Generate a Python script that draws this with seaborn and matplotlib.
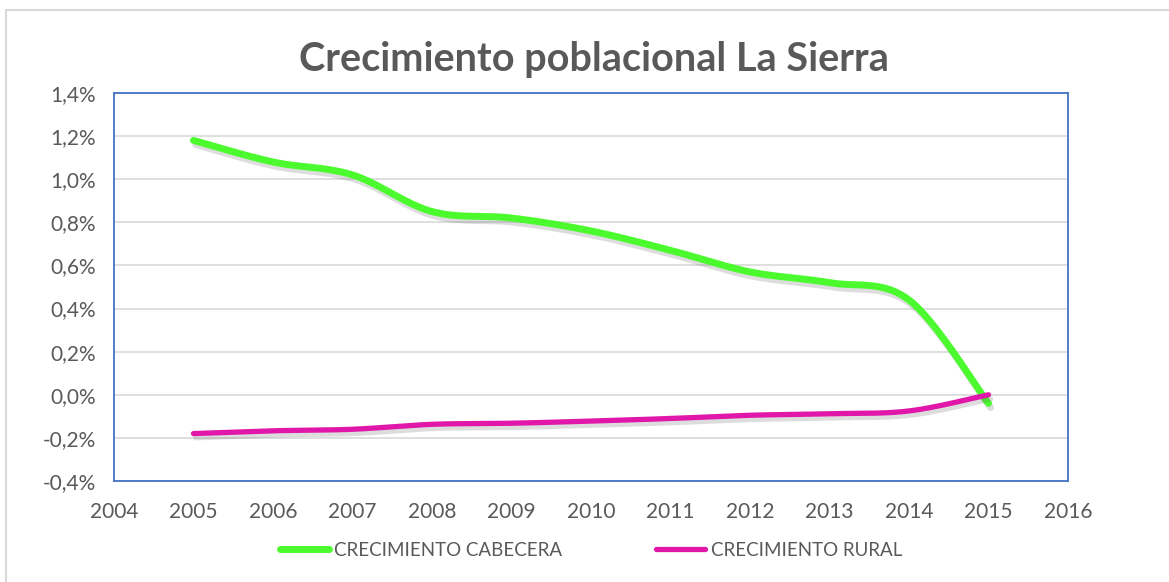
import numpy as np
import pandas as pd
import matplotlib
matplotlib.use("Agg")
import matplotlib.pyplot as plt
import matplotlib.patheffects as pe
from matplotlib.patches import Rectangle
from matplotlib.lines import Line2D
from matplotlib.ticker import FuncFormatter, MultipleLocator
import seaborn as sns

# datos (en %)
anios = [2005, 2006, 2007, 2008, 2009, 2010, 2011, 2012, 2013, 2014, 2015]
cabecera = [1.18, 1.08, 1.02, 0.85, 0.82, 0.76, 0.67, 0.57, 0.52, 0.44, -0.04]
rural = [-0.18, -0.167, -0.16, -0.137, -0.132, -0.122, -0.11, -0.095, -0.088, -0.075, 0.0]

series = ["CRECIMIENTO CABECERA", "CRECIMIENTO RURAL"]
colores = ["#4BFB2E", "#E017A8"]
anchos = [5.0, 3.8]


def suavizar(x, y, n=40):
    # curva tipo Excel (bezier con tangentes catmull-rom)
    x = np.asarray(x, float)
    y = np.asarray(y, float)
    px = np.concatenate([[x[0]], x, [x[-1]]])
    py = np.concatenate([[y[0]], y, [y[-1]]])
    t = np.linspace(0, 1, n)
    xs, ys = [], []
    for i in range(len(x) - 1):
        p0 = np.array([px[i + 1], py[i + 1]])
        p3 = np.array([px[i + 2], py[i + 2]])
        c1 = p0 + (np.array([px[i + 2], py[i + 2]]) - np.array([px[i], py[i]])) / 6
        c2 = p3 - (np.array([px[i + 3], py[i + 3]]) - np.array([px[i + 1], py[i + 1]])) / 6
        b = ((1 - t) ** 3)[:, None] * p0 + (3 * (1 - t) ** 2 * t)[:, None] * c1 \
            + (3 * (1 - t) * t ** 2)[:, None] * c2 + (t ** 3)[:, None] * p3
        xs.append(b[:, 0])
        ys.append(b[:, 1])
    return np.concatenate(xs), np.concatenate(ys)


sns.set_style("white")
plt.rcParams["font.family"] = ["Lato", "DejaVu Sans"]

fig = plt.figure(figsize=(11.69, 5.82), dpi=100)
fig.patches.append(Rectangle((6 / 1169, -0.1), 1.2, 1.1 - 10 / 582,
                             transform=fig.transFigure, fill=False,
                             edgecolor="#d9d9d9", linewidth=1.5))
ax = fig.add_axes([114 / 1169, 1 - 481 / 582, (1068 - 114) / 1169, (481 - 93) / 582])

sombra = [pe.SimpleLineShadow(offset=(1.5, -3), shadow_color="#555555", alpha=0.2),
          pe.Normal()]
for nombre, vals, col, lw in zip(series, [cabecera, rural], colores, anchos):
    sx, sy = suavizar(anios, vals)
    df = pd.DataFrame({"x": sx, "y": sy})
    sns.lineplot(data=df, x="x", y="y", ax=ax, color=col, linewidth=lw,
                 sort=False, solid_capstyle="round", legend=False,
                 path_effects=sombra)

ax.set_xlim(2004, 2016)
ax.set_ylim(-0.4, 1.4)
ax.xaxis.set_major_locator(MultipleLocator(1))
ax.yaxis.set_major_locator(MultipleLocator(0.2))
ax.yaxis.set_major_formatter(FuncFormatter(lambda v, p: f"{v:.1f}%".replace(".", ",")))
ax.xaxis.set_major_formatter(FuncFormatter(lambda v, p: f"{int(round(v))}"))
ax.grid(axis="y", color="#d9d9d9", linewidth=1.2)
ax.set_axisbelow(True)
for s in ax.spines.values():
    s.set_color("#4472C4")
    s.set_linewidth(1.3)
ax.tick_params(axis="both", length=0, labelsize=15, colors="#595959")
ax.tick_params(axis="y", pad=13)
ax.tick_params(axis="x", pad=15)
ax.set_xlabel("")
ax.set_ylabel("")

fig.text(594 / 1169, 1 - 60 / 582, "Crecimiento poblacional La Sierra", ha="center", va="center",
         fontsize=28.5, fontweight="bold", color="#595959")

manijas = [Line2D([0], [0], color=c, linewidth=lw, solid_capstyle="round")
           for c, lw in zip(colores, anchos)]
ax.legend(manijas, series, loc="center", bbox_to_anchor=(0.5, (481 - 550) / (481 - 93)),
          ncol=2, frameon=False, fontsize=13.5, labelcolor="#595959",
          handlelength=2.6, handletextpad=0.3, columnspacing=5.0)

fig.savefig("out.png", dpi=100)
